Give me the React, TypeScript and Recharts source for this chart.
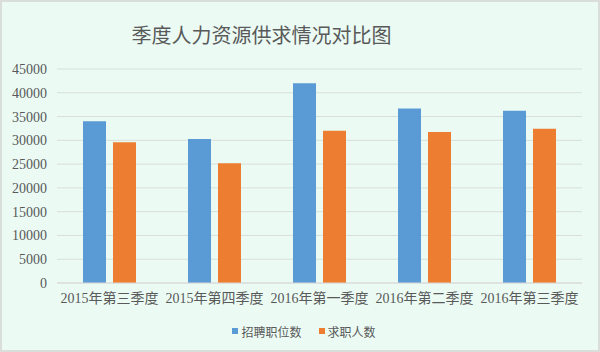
import React from 'react';
import { BarChart, Bar, XAxis, YAxis, CartesianGrid, Legend } from 'recharts';

const categories = ['2015年第三季度', '2015年第四季度', '2016年第一季度', '2016年第二季度', '2016年第三季度'];
const jobPositions = [34000, 30300, 42000, 36700, 36200];
const jobSeekers = [29600, 25200, 32000, 31750, 32450];
const yTicks = [0, 5000, 10000, 15000, 20000, 25000, 30000, 35000, 40000, 45000];
const seriesNames = ['招聘职位数', '求职人数'];
const seriesColors = ['#5b9bd5', '#ed7d31'];

const data = categories.map((c, i) => ({ name: c, a: jobPositions[i], b: jobSeekers[i] }));

const FONT = '"Liberation Serif", "Noto Sans CJK SC", serif';

const LegendContent = () => (
  <div style={{ display: 'flex', justifyContent: 'center', alignItems: 'center', height: 30, paddingLeft: 26, fontFamily: '"Noto Sans CJK SC", sans-serif', fontSize: 12, color: '#595959' }}>
    {seriesNames.map((n, i) => (
      <div key={n} style={{ display: 'flex', alignItems: 'center', marginLeft: i === 0 ? 0 : 17 }}>
        <span style={{ display: 'inline-block', width: 6, height: 6, background: seriesColors[i], marginRight: 3 }} />
        <span>{n}</span>
      </div>
    ))}
  </div>
);

export default function App() {
  return (
    <div style={{ position: 'absolute', left: 0, top: 0, width: 600, height: 352, background: '#ebfbf4', boxSizing: 'border-box', border: '2px solid #d9dedb' }}>
      <div style={{ position: 'absolute', left: -2, top: 21, width: 523, textAlign: 'center', fontFamily: '"Noto Sans CJK SC", sans-serif', fontSize: 20, lineHeight: '24px', color: '#595959' }}>
        季度人力资源供求情况对比图
      </div>
      <div style={{ position: 'absolute', left: -2, top: -2 }}>
        <BarChart width={600} height={352} data={data} margin={{ top: 69, right: 18, left: 0, bottom: 6 }} barSize={23} barGap={7}>
          <CartesianGrid vertical={false} stroke="#d9dedb" />
          <XAxis dataKey="name" axisLine={{ stroke: '#d9d9d9' }} tickLine={false} tickSize={0} tickMargin={10} height={33} interval={0}
            tick={{ fill: '#595959', fontSize: 14, fontFamily: FONT }} />
          <YAxis width={57} domain={[0, 45000]} ticks={yTicks} axisLine={false} tickLine={false} tickSize={0} tickMargin={10}
            tick={{ fill: '#595959', fontSize: 14, fontFamily: FONT }} />
          <Legend verticalAlign="bottom" height={30} content={<LegendContent />} />
          <Bar dataKey="a" name={seriesNames[0]} fill={seriesColors[0]} isAnimationActive={false} />
          <Bar dataKey="b" name={seriesNames[1]} fill={seriesColors[1]} isAnimationActive={false} />
        </BarChart>
      </div>
    </div>
  );
}
